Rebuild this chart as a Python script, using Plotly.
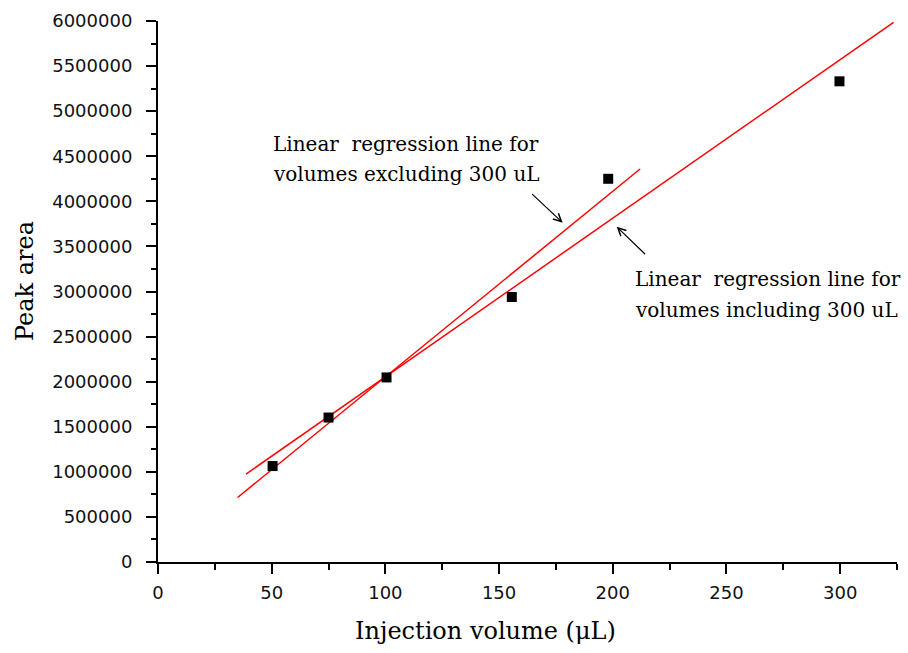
import numpy as np
import plotly.graph_objects as go

# ---- data ----
volume_uL = [50.4, 75.0, 100.5, 155.6, 198.0, 299.7]
peak_area = [1064000, 1602000, 2047000, 2939000, 4250000, 5331000]

# x extents of the two drawn regression lines
excl_line_x = [35.0, 212.0]
incl_line_x = [38.7, 323.5]

x_title = "Injection volume (μL)"
y_title = "Peak area"
note_excl = ["Linear  regression line for", "volumes excluding 300 uL"]
note_incl = ["Linear  regression line for", "volumes including 300 uL"]

# ---- regression fits ----
vx = np.array(volume_uL)
vy = np.array(peak_area, dtype=float)
m_ex, b_ex = np.polyfit(vx[vx < 250], vy[vx < 250], 1)
m_in, b_in = np.polyfit(vx, vy, 1)
ex_x = np.array(excl_line_x)
in_x = np.array(incl_line_x)

fig = go.Figure()
fig.add_trace(go.Scatter(x=ex_x, y=m_ex * ex_x + b_ex, mode="lines",
                         line=dict(color="#ff0000", width=1.5), showlegend=False))
fig.add_trace(go.Scatter(x=in_x, y=m_in * in_x + b_in, mode="lines",
                         line=dict(color="#ff0000", width=1.5), showlegend=False))
fig.add_trace(go.Scatter(x=volume_uL, y=peak_area, mode="markers",
                         marker=dict(symbol="square", size=10, color="black",
                                     line=dict(width=0)),
                         showlegend=False))

# layout geometry (pixels)
W, H = 908, 653
L, R, T, B = 158, 11, 21, 91
PW, PH = W - L - R, H - T - B


def px(xp):
    return (xp - L) / PW


def py(yp):
    return (H - B - yp) / PH


serif = "DejaVu Serif"
tickfont = dict(family="DejaVu Sans", size=18, color="#111111")

fig.update_layout(
    width=W, height=H,
    margin=dict(l=L, r=R, t=T, b=B),
    paper_bgcolor="white", plot_bgcolor="white",
    xaxis=dict(range=[0, 325], dtick=50, tick0=0, showgrid=False, zeroline=False,
               showline=True, linecolor="black", linewidth=2,
               ticks="outside", ticklen=10, tickwidth=2, tickcolor="black",
               minor=dict(dtick=25, ticks="outside", ticklen=6, tickwidth=2,
                          tickcolor="black", showgrid=False),
               tickfont=tickfont, ticklabelstandoff=3),
    yaxis=dict(range=[0, 6000000], dtick=500000, tick0=0, tickformat="d",
               showgrid=False, zeroline=False,
               showline=True, linecolor="black", linewidth=2,
               ticks="outside", ticklen=10, tickwidth=2, tickcolor="black",
               minor=dict(dtick=250000, ticks="outside", ticklen=5, tickwidth=2,
                          tickcolor="black", showgrid=False),
               tickfont=tickfont, ticklabelstandoff=10),
)

ann = []
# axis titles
ann.append(dict(text=x_title, x=px(485), y=py(631), xref="paper", yref="paper",
                xanchor="center", yanchor="middle", showarrow=False,
                font=dict(family=serif, size=24, color="black")))
ann.append(dict(text=y_title, x=px(25), y=py(281), xref="paper", yref="paper",
                xanchor="center", yanchor="middle", showarrow=False, textangle=-90,
                font=dict(family=serif, size=24, color="black")))
# notes
for i, line in enumerate(note_excl):
    ann.append(dict(text=line, x=px(271), y=py(144 + 30 * i), xref="paper", yref="paper",
                    xanchor="left", yanchor="middle", showarrow=False,
                    font=dict(family=serif, size=20, color="black")))
for i, line in enumerate(note_incl):
    ann.append(dict(text=line, x=px(633), y=py(279 + 31 * i), xref="paper", yref="paper",
                    xanchor="left", yanchor="middle", showarrow=False,
                    font=dict(family=serif, size=20, color="black")))
# arrows
ann.append(dict(text="", x=px(562.7), y=py(222.7), xref="paper", yref="paper",
                ax=-32, ay=-30, showarrow=True, arrowhead=5, arrowsize=1.3,
                arrowwidth=1.2, arrowcolor="black", standoff=0))
ann.append(dict(text="", x=px(616.7), y=py(226.7), xref="paper", yref="paper",
                ax=30, ay=29, showarrow=True, arrowhead=5, arrowsize=1.3,
                arrowwidth=1.2, arrowcolor="black", standoff=0))
fig.update_layout(annotations=ann)

fig.write_html("out.html")
